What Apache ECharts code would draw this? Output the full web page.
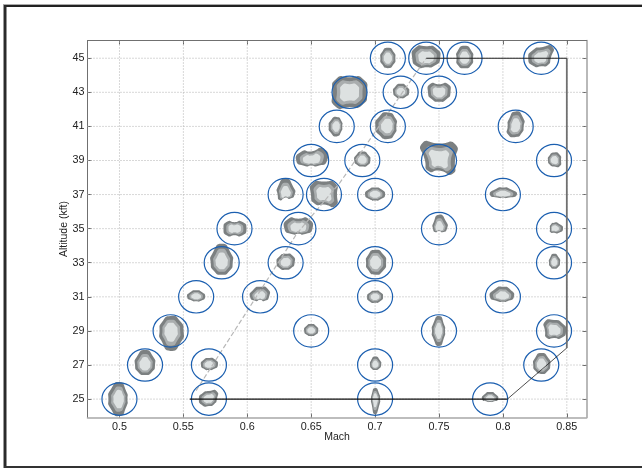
<!DOCTYPE html>
<html><head><meta charset="utf-8">
<style>html,body{margin:0;padding:0;background:#fff}#c{width:642px;height:468px}</style>
<script src="https://cdn.jsdelivr.net/npm/echarts@6/dist/echarts.min.js"></script>
</head><body><div id="c"></div>
<script>
const machTicks = [0.5,0.55,0.6,0.65,0.7,0.75,0.8,0.85];
const altTicks = [25,27,29,31,33,35,37,39,41,43,45];
// test points: mach, altitude (kft)
const testPoints = [
[0.71,45],[0.74,45],[0.77,45],[0.83,45],
[0.68,43],[0.72,43],[0.75,43],
[0.67,41],[0.71,41],[0.81,41],
[0.65,39],[0.69,39],[0.75,39],[0.84,39],
[0.63,37],[0.66,37],[0.70,37],[0.80,37],
[0.59,35],[0.64,35],[0.75,35],[0.84,35],
[0.58,33],[0.63,33],[0.70,33],[0.84,33],
[0.56,31],[0.61,31],[0.70,31],[0.80,31],
[0.54,29],[0.65,29],[0.75,29],[0.84,29],
[0.52,27],[0.57,27],[0.70,27],[0.83,27],
[0.50,25],[0.57,25],[0.70,25],[0.79,25]
];
// measured scatter around each test point, 8 directions E,NE,N,NW,W,SW,S,SE
const scatter = [
[7.5,7,10.5,7,7.5,7,10,7],[14,14,12,15,14,12,9,11],[8.5,10,12.5,10,8,9.5,10,9.5],[9.5,16,11,9,13,11,8,9.5],
[17.5,19,15,19,17,20,15,18],[8.5,8,8.5,7.5,7.5,6.5,6,6.5],[11.5,12,8,12,11,8,9.5,8],
[5.5,7,9.5,8,8,8,10,6.5],[8.5,11,14,12,12.5,12,12.5,10],[8,11,15,6,8,11,10.5,7],
[16,17,9,13,15,8,5,8],[8,8,9,6,8,6,6,7],[16,23,17,24,14,15,10,19],[7,8,8,6,6,4,6,8],
[9,10,16,11,8,8,3,6],[13,16,13,16,13,13,10,16],[10,8,7,7,10,7,6,7],[14,7,7,7,13,5,3,5],
[12,10,6.5,10,11,10,6.5,10],[14,14,10,14,14,8,5,8],[8,10,14,8,6,5,2,5],[9,6,6,5,4,5,4,6],
[11,9,19,7,11,10,12,10],[9,10,9,6,9,8,7,6],[11,9,13,9,9,9,12,8],[6,6,9,5,5,5,6,5],
[9,7,6.5,7,9,5,4.5,6],[9,11,10,4,10,6,3,6],[8,7,6,4,8,7,6,4],[11,9,10,7,13,5,5,6],
[13,10,15,11,11,10,20,9],[7,6,7,6,7,5,5,5],[6,4,15,3,7,4,15,4],[12,11,11,13,9,10,7,10],
[10,6,15,5,10,7,10,7],[9,8,7,7,8,6,5,5],[6,5,8.5,5,5,5,5,5],[9,6,12,6,8,8,9,8],
[8,9,17,5,11,11,17,5],[8,11,8,6,10,9,7,5],[5,3,11,3,4,3,15,3],[8,5,7,6,8,3,3,3]
];
const envelopeLow = [[0.555,25],[0.8035,25]];
const envelopeDiag = [[0.8035,25],[0.85,28]];
const envelopeRight = [[0.85,28],[0.85,45]];
const envelopeTop = [[0.74,45],[0.85,45]];
const flightPath = [[0.56,25.5],[0.6387,34.7],[0.6725,37.7],[0.74,45]];

const xMin=0.475, xMax=0.8654, yMin=23.92, yMax=46.04;
const MACH_UNIT=1/1278, RX=0.0137, RY=0.95;

const chart = echarts.init(document.getElementById('c'),null,{renderer:'canvas'});
const font='"Liberation Sans",Arial,sans-serif';
const lineS=(data,color,width,type)=>({type:'line',data,symbol:'none',silent:true,z:type==='dashed'?6:8,
  lineStyle:{color,width,type:type||'solid'},animation:false});
function fillOut(rr){
  return rr.map((r,i)=>{
    if(i%2===0) return r;
    const a=rr[(i+7)%8], b=rr[(i+1)%8];
    return Math.max(r, 0.98*Math.SQRT2*a*b/Math.sqrt(a*a+b*b));
  });
}
function blobItem(params,api){
  const c=api.coord([api.value(0),api.value(1)]);
  const u=api.size([MACH_UNIT,0])[0];
  const rr=fillOut(scatter[params.dataIndex]);
  const poly=(f,fill)=>({type:'polygon',shape:{smooth:0.7,points:rr.map((r,i)=>{
      const t=i*Math.PI/4, v=r*u*f;
      return [c[0]+v*Math.cos(t),c[1]-v*Math.sin(t)];})},style:{fill}});
  return {type:'group',children:[
    poly(1,'#7c8081'),
    poly(0.74,'#a9adae'),
    poly(0.54,'#dde1e1')
  ]};
}
function ringItem(params,api){
  const c=api.coord([api.value(0),api.value(1)]);
  const s=api.size([RX,RY]);
  return {type:'ellipse',shape:{cx:c[0],cy:c[1],rx:s[0],ry:s[1]},
    style:{fill:'none',stroke:'#1b5fb0',lineWidth:1.2}};
}
const gridStyle={color:'#b0b0b0',type:[1,2],width:1};
chart.setOption({
  animation:false,backgroundColor:'#fff',
  grid:{left:87.5,right:55.5,top:40.5,bottom:50.5,containLabel:false},
  xAxis:[
   {type:'value',min:xMin,max:xMax,position:'bottom',name:'Mach',nameLocation:'middle',nameGap:14.5,nameMoveOverlap:false,
    nameTextStyle:{fontFamily:font,fontSize:10.5,color:'#222'},
    axisLine:{show:true,lineStyle:{color:'#a8a8a8',width:1.6}},
    axisTick:{show:true,inside:true,length:4,customValues:machTicks,lineStyle:{color:'#666'}},
    axisLabel:{show:true,customValues:machTicks,margin:4,fontFamily:font,fontSize:10.8,color:'#222',
      showMinLabel:true,showMaxLabel:true,formatter:v=>String(v)},
    splitLine:{show:false}},
   {type:'value',min:xMin,max:xMax,position:'top',
    axisLine:{show:true,lineStyle:{color:'#707070',width:1}},
    axisTick:{show:true,inside:true,length:4,customValues:machTicks,lineStyle:{color:'#666'}},
    axisLabel:{show:false},splitLine:{show:false}}
  ],
  yAxis:[
   {type:'value',min:yMin,max:yMax,position:'left',name:'Altitude (kft)',nameLocation:'middle',nameGap:18,nameMoveOverlap:false,
    nameTextStyle:{fontFamily:font,fontSize:10.5,color:'#222'},
    axisLine:{show:true,lineStyle:{color:'#707070',width:1}},
    axisTick:{show:true,inside:true,length:4,customValues:altTicks,lineStyle:{color:'#666'}},
    axisLabel:{show:true,customValues:altTicks,margin:3,fontFamily:font,fontSize:10.8,color:'#222',formatter:v=>String(v)},
    splitLine:{show:false}},
   {type:'value',min:yMin,max:yMax,position:'right',
    axisLine:{show:true,lineStyle:{color:'#a8a8a8',width:1.6}},
    axisTick:{show:true,inside:true,length:4,customValues:altTicks,lineStyle:{color:'#666'}},
    axisLabel:{show:false},splitLine:{show:false}}
  ],
  series:[
   ...machTicks.map(v=>({type:'line',data:[[v,yMin],[v,yMax]],symbol:'none',silent:true,z:1,lineStyle:gridStyle})),
   ...altTicks.map(v=>({type:'line',data:[[xMin,v],[xMax,v]],symbol:'none',silent:true,z:1,lineStyle:gridStyle})),
   {type:'custom',data:testPoints,renderItem:blobItem,z:3,silent:true,clip:true},
   lineS(flightPath,'#b8b8b8',1.2,'dashed'),
   {type:'custom',data:testPoints,renderItem:ringItem,z:7,silent:true,clip:false},
   lineS(envelopeLow,'#111',1.1),
   lineS(envelopeDiag,'#222',0.8),
   lineS(envelopeRight,'#707070',1.8),
   lineS(envelopeTop,'#222',1.2)
  ],
  graphic:[
   {type:'rect',silent:true,shape:{x:3,y:4,width:639,height:1},style:{fill:'#aaa'}},
   {type:'rect',silent:true,shape:{x:4,y:5,width:638,height:2},style:{fill:'#222'}},
   {type:'rect',silent:true,shape:{x:3,y:5,width:1,height:463},style:{fill:'#999'}},
   {type:'rect',silent:true,shape:{x:4,y:5,width:2.5,height:463},style:{fill:'#2a2a2a'}},
   {type:'rect',silent:true,shape:{x:4,y:466,width:638,height:2},style:{fill:'#333'}}
  ]
});
</script></body></html>
